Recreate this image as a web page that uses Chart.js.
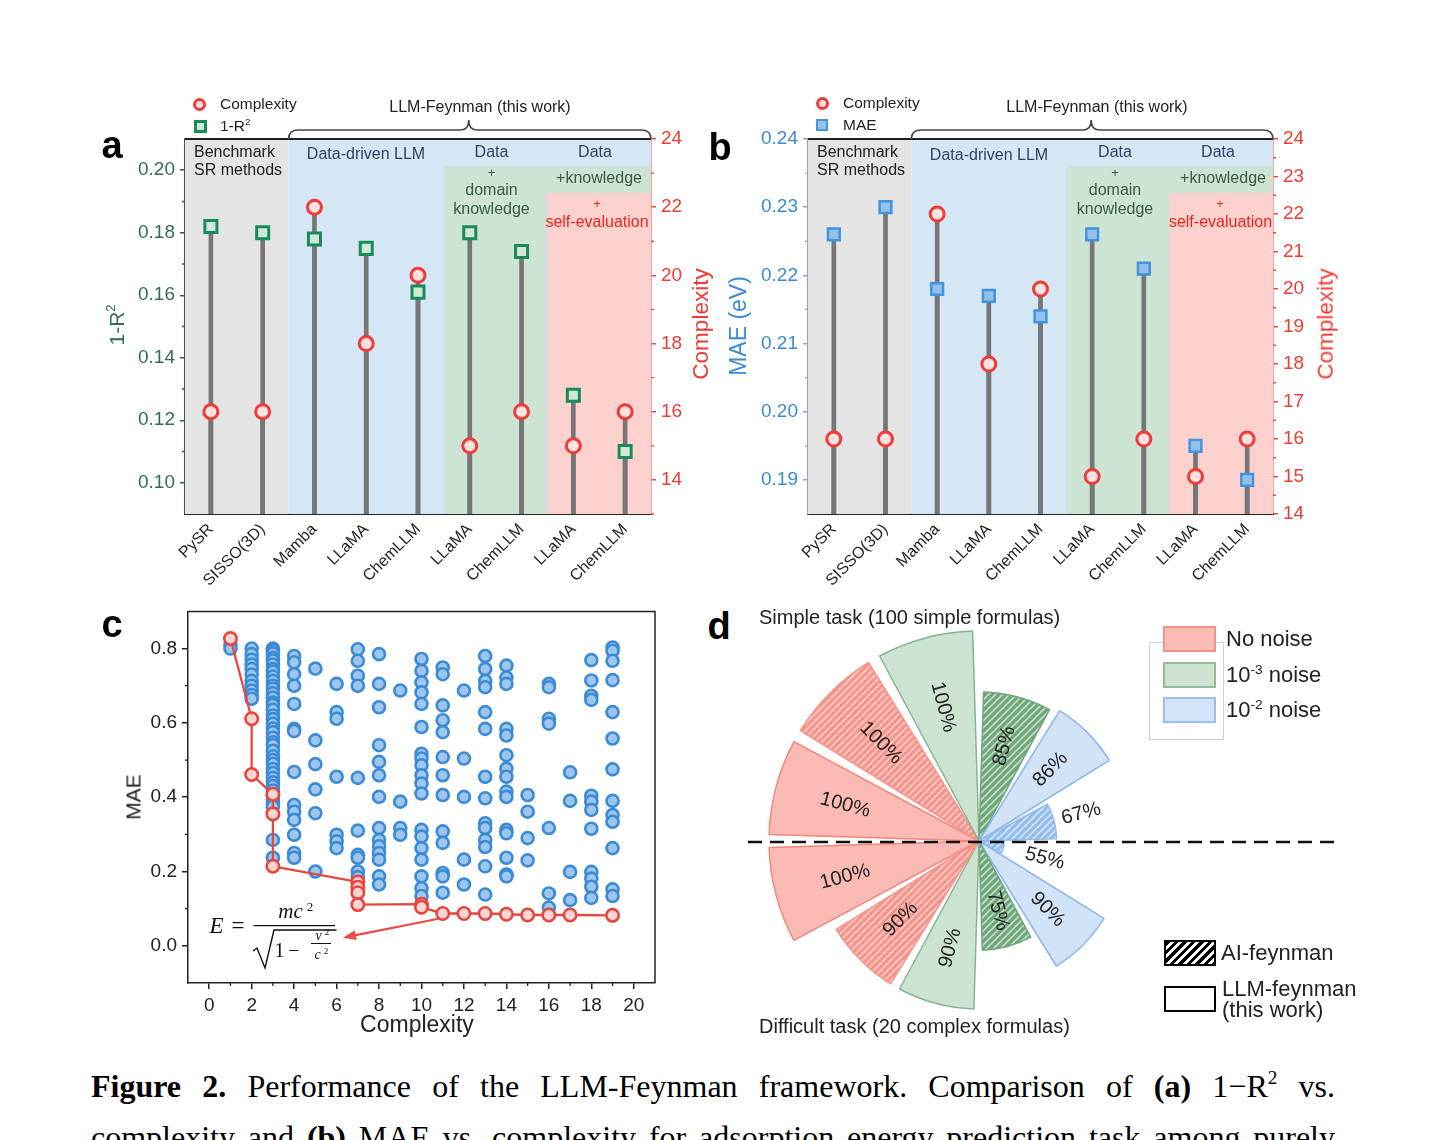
<!DOCTYPE html>
<html>
<head>
<meta charset="utf-8">
<title>LLM-Feynman Figure 2</title>
<script src="https://cdn.jsdelivr.net/npm/chart.js@4.4.1/dist/chart.umd.min.js"></script>
<style>
  body { margin: 0; background: #fff; }
  #page { position: relative; width: 1449px; height: 1140px; overflow: hidden; font-family: 'Liberation Sans', Arial, sans-serif; color: #222; }
  #page canvas { position: absolute; }
  .t { position: absolute; white-space: nowrap; line-height: 1; }
  .t sup { font-size: 0.62em; vertical-align: 0.62em; line-height: 0; }
  .box { position: absolute; box-sizing: border-box; }
  .cap { position: absolute; left: 91px; width: 1244px; font-size: 32px; line-height: 1; font-family: 'Liberation Serif', 'Times New Roman', serif; color: #000; text-align: justify; text-align-last: justify; }
  .cap sup { font-size: 0.6em; vertical-align: 0.7em; line-height: 0; }
</style>
</head>
<body>
<div id="page">
  <canvas id="chartA" width="630" height="510" style="left:90px;top:90px"></canvas>
  <canvas id="chartB" width="640" height="510" style="left:710px;top:90px"></canvas>
  <canvas id="chartC" width="580" height="455" style="left:100px;top:595px"></canvas>
  <canvas id="chartD" width="620" height="460" style="left:740px;top:600px"></canvas>
  <div class="cap" style="top:1070px"><b>Figure 2.</b> Performance of the LLM-Feynman framework. Comparison of <b>(a)</b> 1−R<sup>2</sup> vs.</div>
  <div class="cap" style="top:1121px">complexity and <b>(b)</b> MAE vs. complexity for adsorption energy prediction task among purely</div>
</div>
<script>
// ---- panels a / b: lollipops ----
const methods = ['PySR', 'SISSO(3D)', 'Mamba', 'LLaMA', 'ChemLLM', 'LLaMA', 'ChemLLM', 'LLaMA', 'ChemLLM'];
const r2Error = [0.182, 0.180, 0.178, 0.175, 0.161, 0.180, 0.174, 0.128, 0.110];
const r2Complexity = [16, 16, 22, 18, 20, 15, 16, 15, 16];
const maeAdsorption = [0.226, 0.230, 0.218, 0.217, 0.214, 0.226, 0.221, 0.195, 0.190];
const maeComplexity = [16, 16, 22, 18, 20, 15, 16, 15, 16];

const ticksR2 = [0.10, 0.12, 0.14, 0.16, 0.18, 0.20];
const minorR2 = [0.11, 0.13, 0.15, 0.17, 0.19];
const ticksCxA = [14, 16, 18, 20, 22, 24];
const minorCxA = [13, 15, 17, 19, 21, 23];
const ticksMae = [0.19, 0.20, 0.21, 0.22, 0.23, 0.24];
const minorMae = [0.195, 0.205, 0.215, 0.225, 0.235];
const ticksCxB = [14, 15, 16, 17, 18, 19, 20, 21, 22, 23, 24];
const minorCxB = [14.5, 15.5, 16.5, 17.5, 18.5, 19.5, 20.5, 21.5, 22.5, 23.5];

// ---- panel c: MAE vs complexity cloud + pareto front ----
const cloudComplexity = [1, 2, 3, 4, 5, 6, 7, 8, 9, 10, 11, 12, 13, 14, 15, 16, 17, 18, 19];
const cloudMAE = [
  [0.81, 0.80],
  [0.80, 0.785, 0.77, 0.757, 0.745, 0.73, 0.713, 0.70, 0.687, 0.675, 0.665],
  [0.80, 0.795, 0.787, 0.775, 0.768, 0.757, 0.745, 0.738, 0.725, 0.713, 0.70, 0.692, 0.68, 0.668, 0.655, 0.648,
   0.635, 0.62, 0.61, 0.598, 0.585, 0.575, 0.56, 0.548, 0.54, 0.525, 0.51, 0.50, 0.49, 0.476, 0.465, 0.452,
   0.44, 0.43, 0.418, 0.405, 0.395, 0.385, 0.375, 0.285, 0.237],
  [0.78, 0.763, 0.731, 0.70, 0.651, 0.584, 0.578, 0.468, 0.379, 0.361, 0.339, 0.299, 0.25, 0.237],
  [0.746, 0.553, 0.489, 0.421, 0.357, 0.20],
  [0.705, 0.629, 0.611, 0.455, 0.299, 0.281, 0.263],
  [0.798, 0.767, 0.727, 0.70, 0.452, 0.31, 0.245, 0.237, 0.20, 0.185],
  [0.785, 0.705, 0.642, 0.54, 0.495, 0.459, 0.401, 0.317, 0.285, 0.268, 0.25, 0.232, 0.187, 0.165],
  [0.687, 0.388, 0.317, 0.299],
  [0.772, 0.74, 0.709, 0.682, 0.651, 0.589, 0.517, 0.504, 0.486, 0.459, 0.437, 0.41, 0.312, 0.294, 0.263, 0.232, 0.187, 0.155, 0.134],
  [0.749, 0.731, 0.647, 0.607, 0.575, 0.508, 0.459, 0.406, 0.308, 0.277, 0.196, 0.187, 0.143],
  [0.687, 0.504, 0.401, 0.232, 0.165],
  [0.78, 0.745, 0.713, 0.696, 0.629, 0.584, 0.455, 0.397, 0.33, 0.317, 0.285, 0.266, 0.214, 0.138],
  [0.754, 0.722, 0.705, 0.584, 0.566, 0.513, 0.477, 0.455, 0.415, 0.401, 0.312, 0.303, 0.237, 0.192, 0.187],
  [0.406, 0.361, 0.29, 0.23],
  [0.705, 0.696, 0.611, 0.598, 0.317, 0.141, 0.103],
  [0.467, 0.39, 0.199, 0.123],
  [0.769, 0.714, 0.673, 0.662, 0.404, 0.388, 0.366, 0.315, 0.199, 0.181, 0.159, 0.129],
  [0.803, 0.794, 0.767, 0.715, 0.629, 0.558, 0.475, 0.39, 0.352, 0.334, 0.263, 0.152, 0.134]
];
const frontComplexity = [1, 2, 2, 3, 3, 3, 7, 7, 7, 7, 10, 10, 11, 12, 13, 14, 15, 16, 17, 19];
const frontMAE = [0.827, 0.611, 0.461, 0.408, 0.355, 0.214, 0.172, 0.158, 0.143, 0.111, 0.112, 0.104,
                  0.087, 0.087, 0.087, 0.085, 0.083, 0.083, 0.083, 0.082];
const ticksCx = [0, 2, 4, 6, 8, 10, 12, 14, 16, 18, 20];
const minorCx = [1, 3, 5, 7, 9, 11, 13, 15, 17, 19];
const ticksMaeC = [0, 0.2, 0.4, 0.6, 0.8];
const minorMaeC = [0.1, 0.3, 0.5, 0.7];

// ---- panel d: success-rate rose, clockwise from east ----
const roseLabels = ['55%', '90%', '75%', '90%', '90%', '100%', '100%', '100%', '100%', '85%', '86%', '67%'];
const roseRadius = [12, 70, 52, 80, 80, 100, 100, 100, 100, 71, 73, 37];
const roseNoise = ['1e-2', '1e-2', '1e-3', '1e-3', 'none', 'none', 'none', 'none', '1e-3', '1e-3', '1e-2', '1e-2'];
const roseMethod = ['AI', 'LLM', 'AI', 'LLM', 'AI', 'LLM', 'LLM', 'AI', 'LLM', 'AI', 'LLM', 'AI'];

const FONT = "'Liberation Sans', Arial, sans-serif";
const GREEN = '#2f6e50', RED = '#ee3b33', BLUE = '#3a8ad6';

function minorTicks(spec) {
  return {
    id: 'minorTicks',
    afterDraw(chart) {
      const ctx = chart.ctx;
      ctx.save();
      Object.keys(spec).forEach(id => {
        const s = chart.scales[id];
        ctx.strokeStyle = s.options.border.color;
        ctx.lineWidth = 1.3;
        ctx.beginPath();
        spec[id].forEach(v => {
          const p = s.getPixelForValue(v);
          if (s.isHorizontal()) { ctx.moveTo(p, s.top); ctx.lineTo(p, s.top + 3); }
          else if (s.position === 'left') { ctx.moveTo(s.right, p); ctx.lineTo(s.right - 3, p); }
          else { ctx.moveTo(s.left, p); ctx.lineTo(s.left + 3, p); }
        });
        ctx.stroke();
      });
      ctx.restore();
    }
  };
}

// coloured method groups, header strips, top frame and brace
const groupDecor = {
  id: 'groupDecor',
  beforeDatasetsDraw(chart) {
    const { ctx, chartArea: a } = chart;
    const w = (a.right - a.left) / methods.length;
    const xs = i => a.left + i * w;
    const h = a.bottom - a.top;
    ctx.save();
    ctx.fillStyle = '#e4e4e4'; ctx.fillRect(xs(0), a.top, xs(2) - xs(0), h);
    ctx.fillStyle = '#d5e6f5'; ctx.fillRect(xs(2), a.top, xs(9) - xs(2), h);
    ctx.fillStyle = '#cde3d3'; ctx.fillRect(xs(5), a.top + 27, xs(9) - xs(5), h - 27);
    ctx.fillStyle = '#fdd2ce'; ctx.fillRect(xs(7), a.top + 54, xs(9) - xs(7), h - 54);
    ctx.restore();
  },
  afterDraw(chart) {
    const { ctx, chartArea: a } = chart;
    const w = (a.right - a.left) / methods.length;
    ctx.save();
    ctx.strokeStyle = '#222'; ctx.lineWidth = 2;
    ctx.beginPath(); ctx.moveTo(a.left, a.top); ctx.lineTo(a.right, a.top); ctx.stroke();
    const x1 = a.left + 2 * w, x2 = a.right, mid = (x1 + x2) / 2 - 1;
    const yb = a.top, yh = a.top - 9, yp = a.top - 19;
    ctx.strokeStyle = '#444'; ctx.lineWidth = 1.6;
    ctx.beginPath();
    ctx.moveTo(x1, yb);
    ctx.quadraticCurveTo(x1, yh, x1 + 10, yh);
    ctx.lineTo(mid - 8, yh);
    ctx.quadraticCurveTo(mid, yh, mid, yp);
    ctx.quadraticCurveTo(mid, yh, mid + 8, yh);
    ctx.lineTo(x2 - 10, yh);
    ctx.quadraticCurveTo(x2, yh, x2, yb);
    ctx.stroke();
    ctx.restore();
  }
};

function valueAxis(pos, min, max, major, fmt, color, lineColor, width) {
  return {
    position: pos, min: min, max: max,
    afterFit: s => { s.width = width; },
    afterBuildTicks: s => { s.ticks = major.map(v => ({ value: v })); },
    ticks: { color: color, padding: 5, font: { family: FONT, size: 19 }, callback: fmt },
    grid: { drawOnChartArea: false, tickLength: 5, color: lineColor, lineWidth: 1.5 },
    border: { color: lineColor, width: 1.5 }
  };
}

function makeLollipop(id, o) {
  return new Chart(document.getElementById(id), {
    type: 'bar',
    data: {
      labels: methods,
      datasets: [
        { type: 'line', data: o.cx, yAxisID: 'y2', showLine: false, pointStyle: 'circle', pointRadius: 7,
          pointBorderWidth: 3, pointBorderColor: '#ef3b39', pointBackgroundColor: '#fde2e0', order: 0 },
        { type: 'line', data: o.vals, yAxisID: 'y', showLine: false, pointStyle: 'rect', pointRadius: o.sqR,
          pointBorderWidth: o.sqBW, pointBorderColor: o.sqBorder, pointBackgroundColor: o.sqFill, order: 1 },
        { data: o.vals.map(v => [o.min, v]), yAxisID: 'y', backgroundColor: '#767676', barThickness: 4, grouped: false, order: 2 },
        { data: o.cx.map(v => [o.cxMin, v]), yAxisID: 'y2', backgroundColor: '#767676', barThickness: 4, grouped: false, order: 3 }
      ]
    },
    options: {
      responsive: false,
      animation: false,
      layout: { padding: { top: 49, left: 0, right: 0, bottom: 0 } },
      plugins: { legend: { display: false }, tooltip: { enabled: false } },
      scales: {
        x: {
          afterFit: s => { s.height = 86; },
          grid: { display: false, drawTicks: false },
          border: { color: '#222', width: 2 },
          ticks: { autoSkip: false, minRotation: 45, maxRotation: 45, padding: 6, color: '#222', font: { family: FONT, size: 16 } }
        },
        y: valueAxis('left', o.min, o.max, o.ticks, v => v.toFixed(2), o.col, o.axisCol, o.leftW),
        y2: valueAxis('right', o.cxMin, 24, o.cxTicks, v => v.toFixed(0), RED, '#ee4a44', o.rightW)
      }
    },
    plugins: [groupDecor, minorTicks({ y: o.minor, y2: o.cxMinor })]
  });
}

makeLollipop('chartA', {
  vals: r2Error, cx: r2Complexity, min: 0.09, max: 0.21, cxMin: 13,
  ticks: ticksR2, minor: minorR2, cxTicks: ticksCxA, cxMinor: minorCxA,
  col: GREEN, axisCol: '#2e5e45', leftW: 95, rightW: 69,
  sqR: 8.5, sqBW: 3, sqBorder: '#1b8a5a', sqFill: '#cfe8d8'
});
makeLollipop('chartB', {
  vals: maeAdsorption, cx: maeComplexity, min: 0.185, max: 0.24, cxMin: 14,
  ticks: ticksMae, minor: minorMae, cxTicks: ticksCxB, cxMinor: minorCxB,
  col: BLUE, axisCol: '#8aa7c4', leftW: 98, rightW: 77,
  sqR: 8.3, sqBW: 2.5, sqBorder: '#4394dc', sqFill: '#93c1ec'
});

// ---- panel c ----
const cloudPts = [];
cloudComplexity.forEach((cx, i) => cloudMAE[i].forEach(m => cloudPts.push({ x: cx, y: m })));
const frontPts = frontComplexity.map((cx, i) => ({ x: cx, y: frontMAE[i] }));

const paretoDecor = {
  id: 'paretoDecor',
  afterDraw(chart) {
    const { ctx, chartArea: a, scales: { x, y } } = chart;
    ctx.save();
    ctx.strokeStyle = '#222'; ctx.lineWidth = 1.5;
    ctx.beginPath(); ctx.moveTo(a.left, a.top); ctx.lineTo(a.right, a.top); ctx.lineTo(a.right, a.bottom); ctx.stroke();

    // arrow from the front to the formula
    const x0 = x.getPixelForValue(10.8), y0 = y.getPixelForValue(0.073);
    const x1 = x.getPixelForValue(6.3), y1 = y.getPixelForValue(0.022);
    const ang = Math.atan2(y1 - y0, x1 - x0), c = Math.cos(ang), s = Math.sin(ang);
    ctx.strokeStyle = ctx.fillStyle = '#ee4a45'; ctx.lineWidth = 2.2;
    ctx.beginPath(); ctx.moveTo(x0, y0); ctx.lineTo(x1 - 8 * c, y1 - 8 * s); ctx.stroke();
    ctx.beginPath(); ctx.moveTo(x1, y1);
    ctx.lineTo(x1 - 13 * c + 5 * s, y1 - 13 * s - 5 * c);
    ctx.lineTo(x1 - 13 * c - 5 * s, y1 - 13 * s + 5 * c);
    ctx.closePath(); ctx.fill();

    // E = mc^2 / sqrt(1 - v^2/c^2)
    const serif = "'Liberation Serif', 'Times New Roman', serif";
    ctx.fillStyle = ctx.strokeStyle = '#111';
    ctx.textAlign = 'center'; ctx.textBaseline = 'alphabetic';
    ctx.font = 'italic 23px ' + serif; ctx.fillText('E', 116.5, 338);
    ctx.font = '23px ' + serif; ctx.fillText('=', 138, 338);
    ctx.font = 'italic 21px ' + serif; ctx.fillText('mc', 190.5, 323);
    ctx.font = '13px ' + serif; ctx.fillText('2', 210, 316);
    ctx.lineWidth = 1.3;
    ctx.beginPath(); ctx.moveTo(153.5, 330.7); ctx.lineTo(235, 330.7); ctx.stroke();
    ctx.lineWidth = 1.4;
    ctx.beginPath(); ctx.moveTo(153, 356); ctx.lineTo(157, 353); ctx.lineTo(165, 373); ctx.lineTo(174, 335); ctx.lineTo(236.5, 335); ctx.stroke();
    ctx.font = '20px ' + serif; ctx.fillText('1', 179.5, 362); ctx.fillText('\u2212', 194, 362);
    ctx.font = 'italic 14px ' + serif; ctx.fillText('v', 218.5, 345); ctx.fillText('c', 217.5, 364);
    ctx.font = '9px ' + serif; ctx.fillText('2', 227, 340); ctx.fillText('2', 226, 359);
    ctx.lineWidth = 1;
    ctx.beginPath(); ctx.moveTo(211, 348.5); ctx.lineTo(231, 348.5); ctx.stroke();
    ctx.restore();
  }
};

new Chart(document.getElementById('chartC'), {
  type: 'scatter',
  data: {
    datasets: [
      { data: frontPts, showLine: true, borderColor: '#e8453f', borderWidth: 2.3, pointRadius: 6.2,
        pointBorderWidth: 2.6, pointBorderColor: '#e8453f', pointBackgroundColor: '#fcd6d3', order: 0 },
      { data: cloudPts, pointRadius: 6, pointBorderWidth: 2.6, pointBorderColor: '#3a8ad6',
        pointBackgroundColor: '#9cc6ec', order: 1 }
    ]
  },
  options: {
    responsive: false,
    animation: false,
    layout: { padding: { top: 16, right: 25, left: 0, bottom: 0 } },
    plugins: { legend: { display: false }, tooltip: { enabled: false } },
    scales: {
      x: {
        type: 'linear', min: -1, max: 21,
        afterFit: s => { s.height = 67; },
        afterBuildTicks: s => { s.ticks = ticksCx.map(v => ({ value: v })); },
        ticks: { color: '#222', padding: 5, font: { family: FONT, size: 19 } },
        grid: { drawOnChartArea: false, tickLength: 6, color: '#222', lineWidth: 1.5 },
        border: { color: '#222', width: 1.5 }
      },
      y: {
        min: -0.1, max: 0.9,
        afterFit: s => { s.width = 88; },
        afterBuildTicks: s => { s.ticks = ticksMaeC.map(v => ({ value: v })); },
        ticks: { color: '#222', padding: 5, font: { family: FONT, size: 19 }, callback: v => v.toFixed(1) },
        grid: { drawOnChartArea: false, tickLength: 6, color: '#222', lineWidth: 1.5 },
        border: { color: '#222', width: 1.5 }
      }
    }
  },
  plugins: [paretoDecor, minorTicks({ x: minorCx, y: minorMaeC })]
});

// ---- panel d ----
const ctxD = document.getElementById('chartD').getContext('2d');
function hatch(base, stripe) {
  const t = document.createElement('canvas');
  t.width = t.height = 7;
  const g = t.getContext('2d');
  g.fillStyle = base; g.fillRect(0, 0, 7, 7);
  g.strokeStyle = stripe; g.lineWidth = 1.7;
  g.beginPath();
  g.moveTo(-1, 8); g.lineTo(8, -1);
  g.moveTo(-1, 1); g.lineTo(1, -1);
  g.moveTo(6, 8); g.lineTo(8, 6);
  g.stroke();
  return ctxD.createPattern(t, 'repeat');
}
const roseStyle = {
  'none': { fill: '#fbbab3', line: '#f2877d', dark: '#f5958b', stripe: '#fcc9c4' },
  '1e-3': { fill: '#cde3d2', line: '#86b490', dark: '#70a67c', stripe: '#c4ddc9' },
  '1e-2': { fill: '#d2e3f8', line: '#8eb5e9', dark: '#93bbee', stripe: '#d5e5f9' }
};
const roseValues = [], roseFill = [], roseBorder = [], roseBW = [], roseAngle = [], roseNames = [];
roseRadius.forEach((r, i) => {
  const st = roseStyle[roseNoise[i]];
  const ai = roseMethod[i] === 'AI';
  roseValues.push(r, 0);
  roseFill.push(ai ? hatch(st.dark, st.stripe) : st.fill, 'rgba(0,0,0,0)');
  roseBorder.push(ai ? st.dark : st.line, 'rgba(0,0,0,0)');
  roseBW.push(1.5, 0);
  roseAngle.push(26.5, 3.5);
  roseNames.push(roseLabels[i], '');
});

const roseDecor = {
  id: 'roseDecor',
  afterDatasetsDraw(chart) {
    const ctx = chart.ctx, r = chart.scales.r;
    ctx.save();
    ctx.strokeStyle = '#111'; ctx.lineWidth = 2.5; ctx.setLineDash([14, 8]);
    ctx.beginPath(); ctx.moveTo(8, r.yCenter + 1); ctx.lineTo(600, r.yCenter + 1); ctx.stroke();
    ctx.setLineDash([]);
    const meta = chart.getDatasetMeta(0);
    ctx.fillStyle = '#222'; ctx.font = '20px ' + FONT;
    ctx.textAlign = 'center'; ctx.textBaseline = 'middle';
    roseLabels.forEach((txt, i) => {
      const el = meta.data[2 * i];
      const mid = (el.startAngle + el.endAngle) / 2;
      const R = el.outerRadius;
      const d = R < 90 ? Math.max(R + 28, 68) : R * 0.66;
      ctx.save();
      ctx.translate(el.x + Math.cos(mid) * d, el.y + Math.sin(mid) * d);
      ctx.rotate(Math.cos(mid) < 0 ? mid + Math.PI : mid);
      ctx.fillText(txt, 0, 0);
      ctx.restore();
    });
    ctx.restore();
  }
};

new Chart(ctxD, {
  type: 'polarArea',
  data: {
    labels: roseNames,
    datasets: [{ data: roseValues, backgroundColor: roseFill, borderColor: roseBorder, borderWidth: roseBW, angle: roseAngle }]
  },
  options: {
    responsive: false,
    animation: false,
    layout: { padding: { left: 29, right: 171, top: 31, bottom: 9 } },
    plugins: { legend: { display: false }, tooltip: { enabled: false } },
    scales: {
      r: {
        min: 0, max: 100, startAngle: 91.75,
        ticks: { display: false }, grid: { display: false },
        angleLines: { display: false }, pointLabels: { display: false }
      }
    }
  },
  plugins: [roseDecor]
});

// ---- text and legend overlays ----
const page = document.getElementById('page');
function T(html, x, y, o) {
  o = o || {};
  const d = document.createElement('div');
  d.className = 't';
  d.innerHTML = html;
  d.style.left = x + 'px';
  d.style.top = y + 'px';
  d.style.fontSize = (o.size || 16) + 'px';
  d.style.color = o.color || '#222';
  if (o.bold) d.style.fontWeight = 'bold';
  d.style.transform = (o.left ? 'translate(0,-50%)' : 'translate(-50%,-50%)') + (o.rot ? ' rotate(' + o.rot + 'deg)' : '');
  page.appendChild(d);
}
function B(x, y, w, h, css) {
  const d = document.createElement('div');
  d.className = 'box';
  d.style.cssText = 'left:' + x + 'px;top:' + y + 'px;width:' + w + 'px;height:' + h + 'px;' + css;
  page.appendChild(d);
}

// panel a
T('a', 112, 145, { size: 38, bold: true, color: '#000' });
B(193, 97.5, 13, 13, 'border:3px solid #ef3b39;border-radius:50%;background:#fde2e0');
B(193.5, 120, 13, 13, 'border:3px solid #1b8a5a;background:#cfe8d8');
T('Complexity', 220, 104, { size: 15.5, left: true });
T('1-R<sup>2</sup>', 220, 126, { size: 15.5, left: true });
T('LLM-Feynman (this work)', 480, 107, { size: 16 });
T('Benchmark', 194, 152, { size: 16, left: true });
T('SR methods', 194, 170, { size: 16, left: true });
T('Data-driven LLM', 366, 154, { size: 16, color: '#2d4660' });
T('Data', 491.5, 151.5, { size: 16, color: '#2d4660' });
T('Data', 595, 151.5, { size: 16, color: '#2d4660' });
T('+', 491.5, 172, { size: 13, color: '#3b5b47' });
T('domain', 491.5, 190, { size: 16, color: '#3b5b47' });
T('knowledge', 491.5, 209, { size: 16, color: '#3b5b47' });
T('+knowledge', 599, 178, { size: 16, color: '#3b5b47' });
T('+', 597, 203, { size: 13, color: '#e8271f' });
T('self-evaluation', 597, 221.5, { size: 16, color: '#e8271f' });
T('1-R<sup>2</sup>', 116, 325, { size: 21, color: GREEN, rot: -90 });
T('Complexity', 701, 324, { size: 22.5, color: RED, rot: -90 });

// panel b
T('b', 720, 147, { size: 38, bold: true, color: '#000' });
B(815.5, 96.5, 13, 13, 'border:3px solid #ef3b39;border-radius:50%;background:#fde2e0');
B(816, 119, 12, 12, 'border:2px solid #4a96da;background:#93c1ec');
T('Complexity', 843, 103, { size: 15.5, left: true });
T('MAE', 843, 125, { size: 15.5, left: true });
T('LLM-Feynman (this work)', 1097, 107, { size: 16 });
T('Benchmark', 817, 152, { size: 16, left: true });
T('SR methods', 817, 170, { size: 16, left: true });
T('Data-driven LLM', 989, 155, { size: 16, color: '#2d4660' });
T('Data', 1115, 151.5, { size: 16, color: '#2d4660' });
T('Data', 1218, 151.5, { size: 16, color: '#2d4660' });
T('+', 1115, 172, { size: 13, color: '#3b5b47' });
T('domain', 1115, 190, { size: 16, color: '#3b5b47' });
T('knowledge', 1115, 209, { size: 16, color: '#3b5b47' });
T('+knowledge', 1223, 178, { size: 16, color: '#3b5b47' });
T('+', 1220, 203, { size: 13, color: '#e8271f' });
T('self-evaluation', 1220.5, 221.5, { size: 16, color: '#e8271f' });
T('MAE (eV)', 738, 326, { size: 23, color: BLUE, rot: -90 });
T('Complexity', 1326, 324, { size: 22.5, color: RED, rot: -90 });

// panel c
T('c', 112, 624, { size: 38, bold: true, color: '#000' });
T('MAE', 133, 797, { size: 21, rot: -90 });
T('Complexity', 417, 1024, { size: 23 });

// panel d
T('d', 719, 626, { size: 38, bold: true, color: '#000' });
T('Simple task (100 simple formulas)', 759, 617, { size: 20, left: true });
T('Difficult task (20 complex formulas)', 759, 1026, { size: 20, left: true });
B(1149, 642, 75, 98, 'border:1px solid #d0d0d0;background:#fff');
B(1163, 626, 53, 26, 'border:2px solid #f2938a;background:#fbbcb5');
B(1163, 662, 53, 26, 'border:2px solid #8fbb99;background:#cfe3d3');
B(1163, 697, 53, 26, 'border:2px solid #9cc0ee;background:#d3e3f8');
T('No noise', 1226, 639, { size: 22, left: true });
T('10<sup>-3</sup> noise', 1226, 675, { size: 22, left: true });
T('10<sup>-2</sup> noise', 1226, 710, { size: 22, left: true });
B(1164, 940, 52, 26, 'border:2.5px solid #000;background:repeating-linear-gradient(135deg,#000 0 3px,#fff 3px 6px)');
B(1164, 986, 52, 26, 'border:2.5px solid #000;background:#fff');
T('AI-feynman', 1221, 953, { size: 22, left: true });
T('LLM-feynman', 1222, 989, { size: 22, left: true });
T('(this work)', 1222, 1010, { size: 22, left: true });
</script>
</body>
</html>
